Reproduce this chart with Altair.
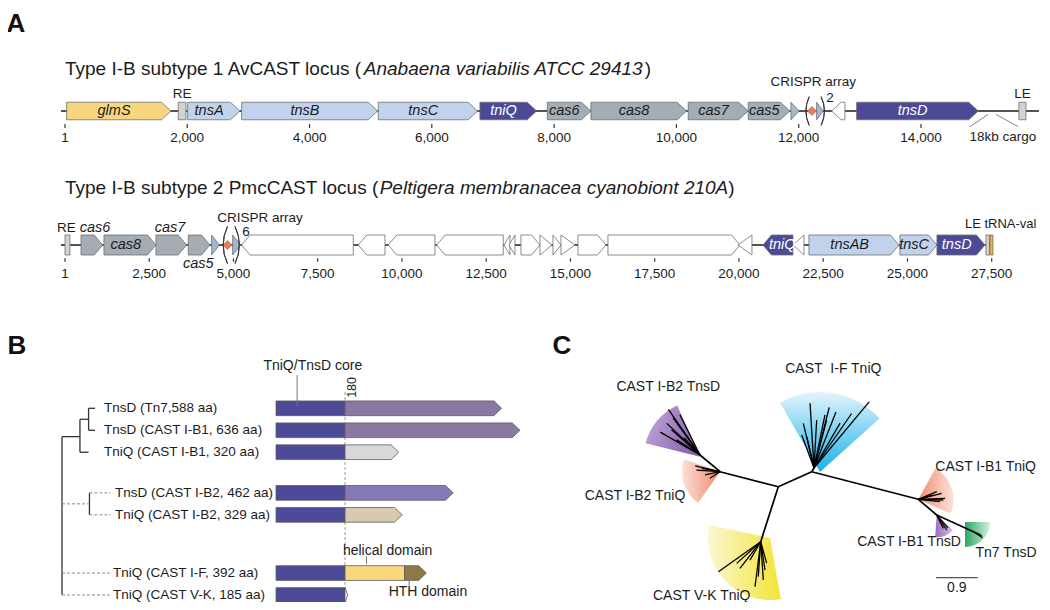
import math
import pandas as pd
import altair as alt

FONT = "Liberation Sans"
INK = "#1c1c1c"

# ======================= DATA =======================
# ---- Panel A, locus 1 : AvCAST (bp) ----
T1_START = [28, 1853, 2007, 2890, 5124, 6787, 7888, 8602, 10193, 11174, 11873, 12293, 12538, 12947, 15601]
T1_END = [1734, 1979, 2862, 5114, 6749, 7714, 8602, 10167, 11174, 11856, 12008, 12401, 12756, 14936, 15716]
T1_STRAND = [1, 0, 1, 1, 1, 1, 1, 1, 1, 1, 2, 2, -1, 1, 0]
T1_KIND = ["glms", "end", "tns", "tns", "tns", "tniq", "cas", "cas", "cas", "cas", "rep", "rep", "orf", "tniq", "end"]
T1_LABEL = ["glmS", "", "tnsA", "tnsB", "tnsC", "tniQ", "cas6", "cas8", "cas7", "cas5", "", "", "", "tnsD", ""]
T1_BACKBONE = [-65, 15929]
T1_TICKS = [1, 2000, 4000, 6000, 8000, 10000, 12000, 14000]
T1_TICK_TEXT = ["1", "2,000", "4,000", "6,000", "8,000", "10,000", "12,000", "14,000"]
T1_SPACER = [12216]
T1_PAREN = [12118, 12420]
T1_CARGO_FROM = [15099, 15224]
T1_CARGO_TO = [14800, 15590]
T1_TITLE = ["Type I-B subtype 1 AvCAST locus (", "Anabaena variabilis ATCC 29413", ")"]

# ---- Panel A, locus 2 : PmcCAST (bp) ----
T2_START = [1, 475, 1157, 2700, 3659, 4353, 4976, 5243, 8703, 9593, 11030, 13027, 13175, 13531, 14095,
            14481, 14718, 15223, 16113, 19970, 20712, 21602, 22077, 24777, 25875, 27329, 27448]
T2_END = [148, 1119, 2700, 3611, 4303, 4579, 5214, 8555, 9496, 10979, 13006, 13205, 13353, 14095, 14451,
          14718, 15134, 16053, 20030, 20386, 21602, 21929, 24748, 25875, 27300, 27433, 27537]
T2_STRAND = [0, 1, 1, 1, 1, 2, 2, -1, -1, -1, -1, -2, -2, 1, 2, 2, 2, 1, 1, -2, -1, -2, 1, 1, 1, 0, 0]
T2_KIND = ["end", "cas", "cas", "cas", "cas", "rep", "rep", "orf", "orf", "orf", "orf", "orf", "orf", "orf", "orf",
           "orf", "orf", "orf", "orf", "orf", "tniq", "orf", "tns", "tns", "tniq", "end", "trna"]
T2_LABEL = ["", "", "cas8", "", "", "", "", "", "", "", "", "", "", "", "", "", "", "", "", "", "tniQ", "",
            "tnsAB", "tnsC", "tnsD", "", ""]
T2_BACKBONE = [-119, 27537]
T2_TICKS = [1, 2500, 5000, 7500, 10000, 12500, 15000, 17500, 20000, 22500, 25000, 27500]
T2_TICK_TEXT = ["1", "2,500", "5,000", "7,500", "10,000", "12,500", "15,000", "17,500", "20,000",
                "22,500", "25,000", "27,500"]
T2_SPACER = [4822]
T2_PAREN = [4697, 5172]
T2_TITLE = ["Type I-B subtype 2 PmcCAST locus (", "Peltigera membranacea cyanobiont 210A", ")"]

# ---- Panel B (aa) ----
B_NAME = ["TnsD (Tn7,588 aa)", "TnsD (CAST I-B1, 636 aa)", "TniQ (CAST I-B1, 320 aa)",
          "TnsD (CAST I-B2, 462 aa)", "TniQ (CAST I-B2, 329 aa)", "TniQ (CAST I-F, 392 aa)",
          "TniQ (CAST V-K, 185 aa)"]
B_LENGTH = [588, 636, 320, 462, 329, 392, 185]
B_EXT = ["tnsd", "tnsd", "tniq1", "tnsd2", "tniq2", "helical", "tip"]
B_ROW = [0, 1, 2, 3.85, 4.85, 7.5, 8.5]
B_CORE_END = 180
B_HTH_START = 335
B_TREE_SOLID = [(0, 1.29, 0, 8.5), (0, 1.29, 1.02, 1.29), (1.02, 0.5, 1.02, 2.0), (1.02, 0.5, 1.51, 0.5),
                (1.02, 2.0, 1.51, 2.0), (1.51, 0, 1.51, 1.0), (1.51, 0, 1.88, 0), (1.51, 1.0, 1.88, 1.0),
                (1.56, 3.85, 1.56, 4.85)]
B_TREE_DASHED = [(0, 4.35, 1.56, 4.35), (1.56, 3.85, 2.76, 3.85), (1.56, 4.85, 2.76, 4.85),
                 (0, 7.5, 2.84, 7.5), (0, 8.5, 2.84, 8.5)]
B_LABEL_DEPTH = [2.39, 2.39, 2.39, 3.01, 3.01, 2.90, 2.90]

# ---- Panel C (tree units, scale bar 0.9) ----
C_NODE_NAME = ["A", "B", "L", "V", "P", "F", "Q", "T", "N"]
C_NODE_X = [0.0, 0.721, -1.259, -0.380, -1.691, 0.771, 3.024, 3.421, 4.227]
C_NODE_Y = [0.0, 0.324, 0.324, -1.188, 0.685, 0.404, -0.272, -0.611, -0.978]
C_EDGE_FROM = ["A", "A", "A", "L", "B", "B", "Q", "T"]
C_EDGE_TO = ["B", "L", "V", "P", "F", "Q", "T", "N"]
C_LEAF_NODE = ["P"] * 8 + ["L"] * 5 + ["F"] * 12 + ["V"] * 9 + ["Q"] * 6 + ["T"] * 3 + ["N"] * 3
C_LEAF_ANGLE = [124.7, 136.4, 138.5, 147, 116.6, 126, 133, 150,
                167, 169.5, 192, 213, 176,
                93.5, 75.9, 78.3, 50.2, 55.4, 103.5, 110.4, 103, 86.8, 75.2, 59.8, 68.6,
                215.3, 262.8, 278.6, 232.1, 285.5, 239.7, 266, 273.9, 222,
                -1.6, 14.4, 22.4, -6.3, 16, 2.1,
                -56.3, -63.6, -49,
                -28, -22, -35]
C_LEAF_LEN = [1.20, 0.99, 0.82, 0.60, 0.97, 0.99, 0.50, 0.99,
              0.55, 0.40, 0.33, 0.26, 0.51,
              1.40, 1.35, 1.17, 1.86, 1.43, 0.99, 0.76, 0.69, 1.04, 1.07, 1.12, 1.30,
              1.12, 0.98, 0.62, 0.73, 0.48, 0.46, 0.76, 0.83, 0.70,
              0.54, 0.52, 0.43, 0.47, 0.34, 0.58,
              0.39, 0.32, 0.37,
              0.19, 0.15, 0.22]
C_WEDGE_X = [-1.691, -1.259, 0.901, -0.179, 3.024, 3.421, 4.032]
C_WEDGE_Y = [0.648, 0.324, 0.317, -1.108, -0.272, -0.611, -0.762]
C_WEDGE_R = [1.21, 0.82, 1.73, 1.34, 0.76, 0.48, 0.54]
C_WEDGE_T1 = [284, 215, -30, 170, 29, 133, 90]
C_WEDGE_T2 = [336, 289, 48, 282, 114, 184, 180]
C_LABEL = ["CAST\u00a0\u00a0I-F TniQ", "CAST I-B2 TnsD", "CAST I-B2 TniQ", "CAST V-K TniQ",
           "CAST I-B1 TniQ", "CAST I-B1 TnsD", "Tn7 TnsD"]
C_SCALEBAR = [0.9]

# ======================= STYLE / LAYOUT =======================
KIND_FILL = {"glms": "#F8D67D", "tns": "#C1D3EC", "tniq": "#4C4A97", "cas": "#A4ACB4", "rep": "#A0B7D3",
             "orf": "#FFFFFF", "end": "#D3D3D3", "trna": "#EFB23A"}
B_FILL = {"core": "#4D4A97", "tnsd": "#8A77A2", "tniq1": "#D8D9DB", "tnsd2": "#847ABA", "tniq2": "#D7CAB0",
          "helical": "#F8D77F", "hth": "#8B7A45", "tip": "#FFFFFF"}
WEDGE_GRAD = [("#C4ABDA", "#8C65B2", 0, 0, 1, 0.4),
              ("#FCE0D6", "#F08A70", 0, 0, 1, 0),
              ("#E4F4FB", "#18B1EA", 0, 0, 0, 1),
              ("#FBF7D3", "#F3E436", 0, 0, 1, 0),
              ("#F28D74", "#FCE2D8", 0, 0, 1, 0),
              ("#9A6DBD", "#D4C0E4", 0, 0, 1, 0),
              ("#27A862", "#D5EFDF", 0, 0, 1, 0)]
C_LABEL_POS = [(1.188, 2.536), (-2.376, 2.160), (-3.095, -0.194), (-1.654, -2.350),
               (4.479, 0.432), (2.823, -1.201), (4.918, -1.438)]


def P(v):
    return v - 8  # page pixel -> chart pixel


def sc(d0, d1, r0, r1):
    return alt.Scale(domain=[d0, d1], range=[r0, r1], nice=False, zero=False)


A1X = sc(1, 14000, P(65), P(921))
A1Y = sc(-1, 1, P(119.75), P(102.25))
A2X = sc(1, 27500, P(65), P(991.7))
A2Y = sc(-1, 1, P(255), P(235))
BX = sc(0, 636, P(276), P(520))
BY = sc(0, 8.5, P(408.3), P(595))
BTX = sc(0, 1, P(62), P(79.6))
C_UNIT_PX = 46.3
CX = sc(0, 1, P(778.3), P(778.3) + C_UNIT_PX)
CY = sc(0, 1, P(486.7), P(486.7) - C_UNIT_PX)
PGX = sc(0, 1050, P(0), P(1050))
PGY = sc(0, 610, P(0), P(610))


def X(f, s):
    return alt.X(f, type="quantitative", scale=s, axis=None)


def Y(f, s):
    return alt.Y(f, type="quantitative", scale=s, axis=None, stack=None)


def polys(starts, ends, strands, kinds, head, fills, centers=None, half=1.0, prefix="g"):
    rows = []
    for i, (s, e, st, k) in enumerate(zip(starts, ends, strands, kinds)):
        c = 0.0 if centers is None else centers[i]
        lo, hi = c - half, c + half
        L = e - s
        h = L if abs(st) == 2 else min(head, L)
        if st > 0:
            pts = [(s, lo, hi), (e, c, c)] if h >= L else [(s, lo, hi), (e - h, lo, hi), (e, c, c)]
        elif st < 0:
            pts = [(s, c, c), (e, lo, hi)] if h >= L else [(s, c, c), (s + h, lo, hi), (e, lo, hi)]
        else:
            pts = [(s, lo, hi), (e, lo, hi)]
        for x, a, b in pts:
            rows.append({"gid": f"{prefix}{i}", "x": x, "lo": a, "hi": b, "fill": fills[k]})
    return pd.DataFrame(rows)


def poly_layer(df, xs, ys, stroke="#6f6f6f", sw=0.8):
    return alt.Chart(df).mark_area(stroke=stroke, strokeWidth=sw, interpolate="linear").encode(
        x=X("x", xs), y=Y("lo", ys), y2="hi:Q", detail="gid:N", color=alt.Color("fill:N", scale=None))


def rule_layer(df, xs, ys, color="#111111", width=1.5, dash=None):
    kw = dict(color=color, strokeWidth=width)
    if dash:
        kw["strokeDash"] = dash
    return alt.Chart(df).mark_rule(**kw).encode(x=X("x", xs), y=Y("y", ys), x2="x2:Q", y2="y2:Q")


def text_layer(df, xs, ys, size, italic=False, bold=False, align="center", color=INK, angle=None, dx=0, dy=0):
    kw = dict(font=FONT, fontSize=size, align=align, baseline="middle")
    if dx:
        kw["dx"] = dx
    if dy:
        kw["dy"] = dy
    if italic:
        kw["fontStyle"] = "italic"
    if bold:
        kw["fontWeight"] = "bold"
    if angle is not None:
        kw["angle"] = angle
    enc = dict(x=X("x", xs), y=Y("y", ys), text="t:N")
    if "c" in df.columns:
        enc["color"] = alt.Color("c:N", scale=None)
    else:
        kw["color"] = color
    return alt.Chart(df).mark_text(**kw).encode(**enc)


def label_df(starts, ends, strands, kinds, labels, head):
    rows = []
    for s, e, st, k, lab in zip(starts, ends, strands, kinds, labels):
        if not lab:
            continue
        h = min(head, e - s)
        xc = (s + e - h) / 2 if st > 0 else (s + h + e) / 2
        rows.append({"x": xc, "y": 0, "t": lab, "c": "#FFFFFF" if k == "tniq" else INK})
    return pd.DataFrame(rows)


def paren_layer(paren, ppb, R, half, xs, ys):
    rows = []
    for i, p in enumerate(paren):
        if i == 0:
            rows.append({"x": p + R / ppb, "y": 0, "t1": math.radians(270 - half), "t2": math.radians(270 + half)})
        else:
            rows.append({"x": p - R / ppb, "y": 0, "t1": math.radians(90 - half), "t2": math.radians(90 + half)})
    df = pd.DataFrame(rows)
    return alt.Chart(df).mark_arc(filled=False, color="#3a3a3a", strokeWidth=1.0, radius=R, radius2=R - 0.2).encode(
        x=X("x", xs), y=Y("y", ys), theta=alt.Theta("t1:Q", scale=None), theta2=alt.Theta2("t2:Q"))


layers = []


# ======================= PANEL A =======================
def track(starts, ends, strands, kinds, labels, backbone, ticks, tick_text, spacer, paren,
          xs, ys, head_px, ppb, tick_y, tick_lab_y, paren_R, title, title_y, title_dx):
    out = []
    head = head_px / ppb
    out.append(rule_layer(pd.DataFrame({"x": [backbone[0]], "x2": [backbone[1]], "y": [0], "y2": [0]}),
                          xs, ys, "#1a1a1a", 1.4))
    out.append(poly_layer(polys(starts, ends, strands, kinds, head, KIND_FILL), xs, ys))
    out.append(alt.Chart(pd.DataFrame({"x": spacer, "y": [0]})).mark_point(
        shape="diamond", filled=True, size=80, color="#F07A5E", stroke="#B5533F", strokeWidth=0.6, opacity=1
    ).encode(x=X("x", xs), y=Y("y", ys)))
    out.append(paren_layer(paren, ppb, paren_R, 25, xs, ys))
    out.append(text_layer(label_df(starts, ends, strands, kinds, labels, head), xs, ys, 14.5, italic=True))
    out.append(rule_layer(pd.DataFrame({"x": ticks, "x2": ticks, "y": [tick_y[0]] * len(ticks),
                                        "y2": [tick_y[1]] * len(ticks)}), xs, ys, "#333333", 1.2))
    out.append(text_layer(pd.DataFrame({"x": ticks, "y": [tick_lab_y] * len(ticks), "t": tick_text}),
                          xs, ys, 13.5))
    out.append(text_layer(pd.DataFrame({"x": [1], "y": [title_y], "t": [title[0]]}), xs, ys, 19, align="left"))
    out.append(text_layer(pd.DataFrame({"x": [1], "y": [title_y], "t": [title[1]]}), xs, ys, 19, align="left",
                          italic=True, dx=title_dx[0]))
    out.append(text_layer(pd.DataFrame({"x": [1], "y": [title_y], "t": [title[2]]}), xs, ys, 19, align="left",
                          dx=title_dx[1]))
    return out


PPB1 = (P(921) - P(65)) / (14000 - 1)
PPB2 = (P(991.7) - P(65)) / (27500 - 1)

layers += track(T1_START, T1_END, T1_STRAND, T1_KIND, T1_LABEL, T1_BACKBONE, T1_TICKS, T1_TICK_TEXT,
                T1_SPACER, T1_PAREN, A1X, A1Y, 9.5, PPB1, (-1.49, -1.94), -3.14, 34,
                T1_TITLE, 4.75, (298.8, 579.7))
layers.append(text_layer(pd.DataFrame({"x": [1916, 15658, 12238, 12510, 15340],
                                       "y": [1.94, 1.94, 3.31, 1.52, -2.97],
                                       "t": ["RE", "LE", "CRISPR array", "2", "18kb cargo"]}), A1X, A1Y, 13.5))
layers.append(rule_layer(pd.DataFrame({"x": T1_CARGO_FROM, "x2": T1_CARGO_TO, "y": [-0.38, -0.38],
                                       "y2": [-1.79, -1.79]}), A1X, A1Y, "#777777", 0.9))

layers += track(T2_START, T2_END, T2_STRAND, T2_KIND, T2_LABEL, T2_BACKBONE, T2_TICKS, T2_TICK_TEXT,
                T2_SPACER, T2_PAREN, A2X, A2Y, 8.5, PPB2, (-1.33, -1.67), -2.9, 44,
                T2_TITLE, 5.66, (314.7, 663.2))
layers.append(text_layer(pd.DataFrame({"x": [40, 5786, 5371], "y": [1.73, 2.73, 1.33],
                                       "t": ["RE", "CRISPR array", "6"]}), A2X, A2Y, 13.5))
layers.append(text_layer(pd.DataFrame({"x": [890, 3116, 3956], "y": [1.73, 1.73, -1.93],
                                       "t": ["cas6", "cas7", "cas5"]}), A2X, A2Y, 14.5, italic=True))
layers.append(text_layer(pd.DataFrame({"x": [26706], "y": [2.1], "t": ["LE tRNA-val"]}), A2X, A2Y, 13,
                         align="left"))

# ======================= PANEL B =======================
bs, be, bst, bk, bc = [], [], [], [], []
for row, L, ext in zip(B_ROW, B_LENGTH, B_EXT):
    bs.append(0); be.append(B_CORE_END); bst.append(0); bk.append("core"); bc.append(row)
    if ext == "helical":
        bs.append(B_CORE_END); be.append(B_HTH_START); bst.append(0); bk.append("helical"); bc.append(row)
        bs.append(B_HTH_START); be.append(L); bst.append(1); bk.append("hth"); bc.append(row)
    elif ext == "tip":
        bs.append(B_CORE_END); be.append(B_CORE_END + 7); bst.append(2); bk.append("tip"); bc.append(row)
    else:
        bs.append(B_CORE_END); be.append(L); bst.append(1); bk.append(ext); bc.append(row)

layers.append(rule_layer(pd.DataFrame({"x": [B_CORE_END], "x2": [B_CORE_END], "y": [-0.74], "y2": [8.68]}),
                         BX, BY, "#9a9a9a", 1.0, [3, 2]))
layers.append(poly_layer(polys(bs, be, bst, bk, 20, B_FILL, centers=bc, half=0.335, prefix="b"), BX, BY,
                         stroke="#5e5e5e", sw=0.8))
layers.append(rule_layer(pd.DataFrame({"x": [a[0] for a in B_TREE_SOLID], "y": [a[1] for a in B_TREE_SOLID],
                                       "x2": [a[2] for a in B_TREE_SOLID], "y2": [a[3] for a in B_TREE_SOLID]}),
                         BTX, BY, "#333333", 1.3))
layers.append(rule_layer(pd.DataFrame({"x": [a[0] for a in B_TREE_DASHED], "y": [a[1] for a in B_TREE_DASHED],
                                       "x2": [a[2] for a in B_TREE_DASHED], "y2": [a[3] for a in B_TREE_DASHED]}),
                         BTX, BY, "#8a8a8a", 1.0, [3, 2]))
layers.append(text_layer(pd.DataFrame({"x": B_LABEL_DEPTH, "y": B_ROW, "t": B_NAME}), BTX, BY, 13.5,
                         align="left"))
layers.append(text_layer(pd.DataFrame({"x": [96, 291, 396], "y": [-1.91, 6.49, 8.38],
                                       "t": ["TniQ/TnsD core", "helical domain", "HTH domain"]}), BX, BY, 14))
layers.append(text_layer(pd.DataFrame({"x": [B_CORE_END], "y": [-0.95], "t": ["180"]}), BX, BY, 12.5,
                         angle=270, dy=7))
layers.append(rule_layer(pd.DataFrame({"x": [55, 236, 347], "x2": [55, 236, 347], "y": [-1.51, 6.74, 7.85],
                                       "y2": [-0.1, 7.09, 8.08]}), BX, BY, "#777777", 1.0))

# ======================= PANEL C =======================
node = {n: (x, y) for n, x, y in zip(C_NODE_NAME, C_NODE_X, C_NODE_Y)}
for i in range(len(C_WEDGE_X)):
    c0, c1, gx1, gy1, gx2, gy2 = WEDGE_GRAD[i]
    grad = alt.Gradient(gradient="linear", stops=[alt.GradientStop(color=c0, offset=0),
                                                  alt.GradientStop(color=c1, offset=1)],
                        x1=gx1, y1=gy1, x2=gx2, y2=gy2)
    wdf = pd.DataFrame({"x": [C_WEDGE_X[i]], "y": [C_WEDGE_Y[i]],
                        "t1": [math.radians(C_WEDGE_T1[i])], "t2": [math.radians(C_WEDGE_T2[i])],
                        "r": [C_WEDGE_R[i] * C_UNIT_PX]})
    layers.append(alt.Chart(wdf).mark_arc(fill=grad).encode(
        x=X("x", CX), y=Y("y", CY), theta=alt.Theta("t1:Q", scale=None), theta2=alt.Theta2("t2:Q"),
        radius=alt.Radius("r:Q", scale=None)))

edges = pd.DataFrame({"x": [node[a][0] for a in C_EDGE_FROM], "y": [node[a][1] for a in C_EDGE_FROM],
                      "x2": [node[b][0] for b in C_EDGE_TO], "y2": [node[b][1] for b in C_EDGE_TO]})
leaves = pd.DataFrame({
    "x": [node[n][0] for n in C_LEAF_NODE], "y": [node[n][1] for n in C_LEAF_NODE],
    "x2": [node[n][0] + l * math.cos(math.radians(a)) for n, a, l in zip(C_LEAF_NODE, C_LEAF_ANGLE, C_LEAF_LEN)],
    "y2": [node[n][1] + l * math.sin(math.radians(a)) for n, a, l in zip(C_LEAF_NODE, C_LEAF_ANGLE, C_LEAF_LEN)]})
layers.append(rule_layer(edges, CX, CY, "#000000", 1.7))
layers.append(rule_layer(leaves, CX, CY, "#000000", 1.3))
layers.append(text_layer(pd.DataFrame({"x": [p[0] for p in C_LABEL_POS], "y": [p[1] for p in C_LABEL_POS],
                                       "t": C_LABEL}), CX, CY, 14))
layers.append(rule_layer(pd.DataFrame({"x": [3.406], "x2": [3.406 + C_SCALEBAR[0]], "y": [-1.965],
                                       "y2": [-1.965]}), CX, CY, "#555555", 1.3))
layers.append(text_layer(pd.DataFrame({"x": [3.406 + C_SCALEBAR[0] / 2], "y": [-2.18],
                                       "t": [f"{C_SCALEBAR[0]}"]}), CX, CY, 14))

# ======================= panel letters =======================
layers.append(text_layer(pd.DataFrame({"x": [16, 17, 562], "y": [24, 346, 346], "t": ["A", "B", "C"]}),
                         PGX, PGY, 26, bold=True, color="#111111"))

chart = alt.layer(*layers).resolve_scale(x="independent", y="independent").properties(
    width=1034, height=594, autosize=alt.AutoSizeParams(type="none"), padding=0
).configure_view(strokeWidth=0)

chart.save("out.html", embed_options={"renderer": "svg", "actions": False})
